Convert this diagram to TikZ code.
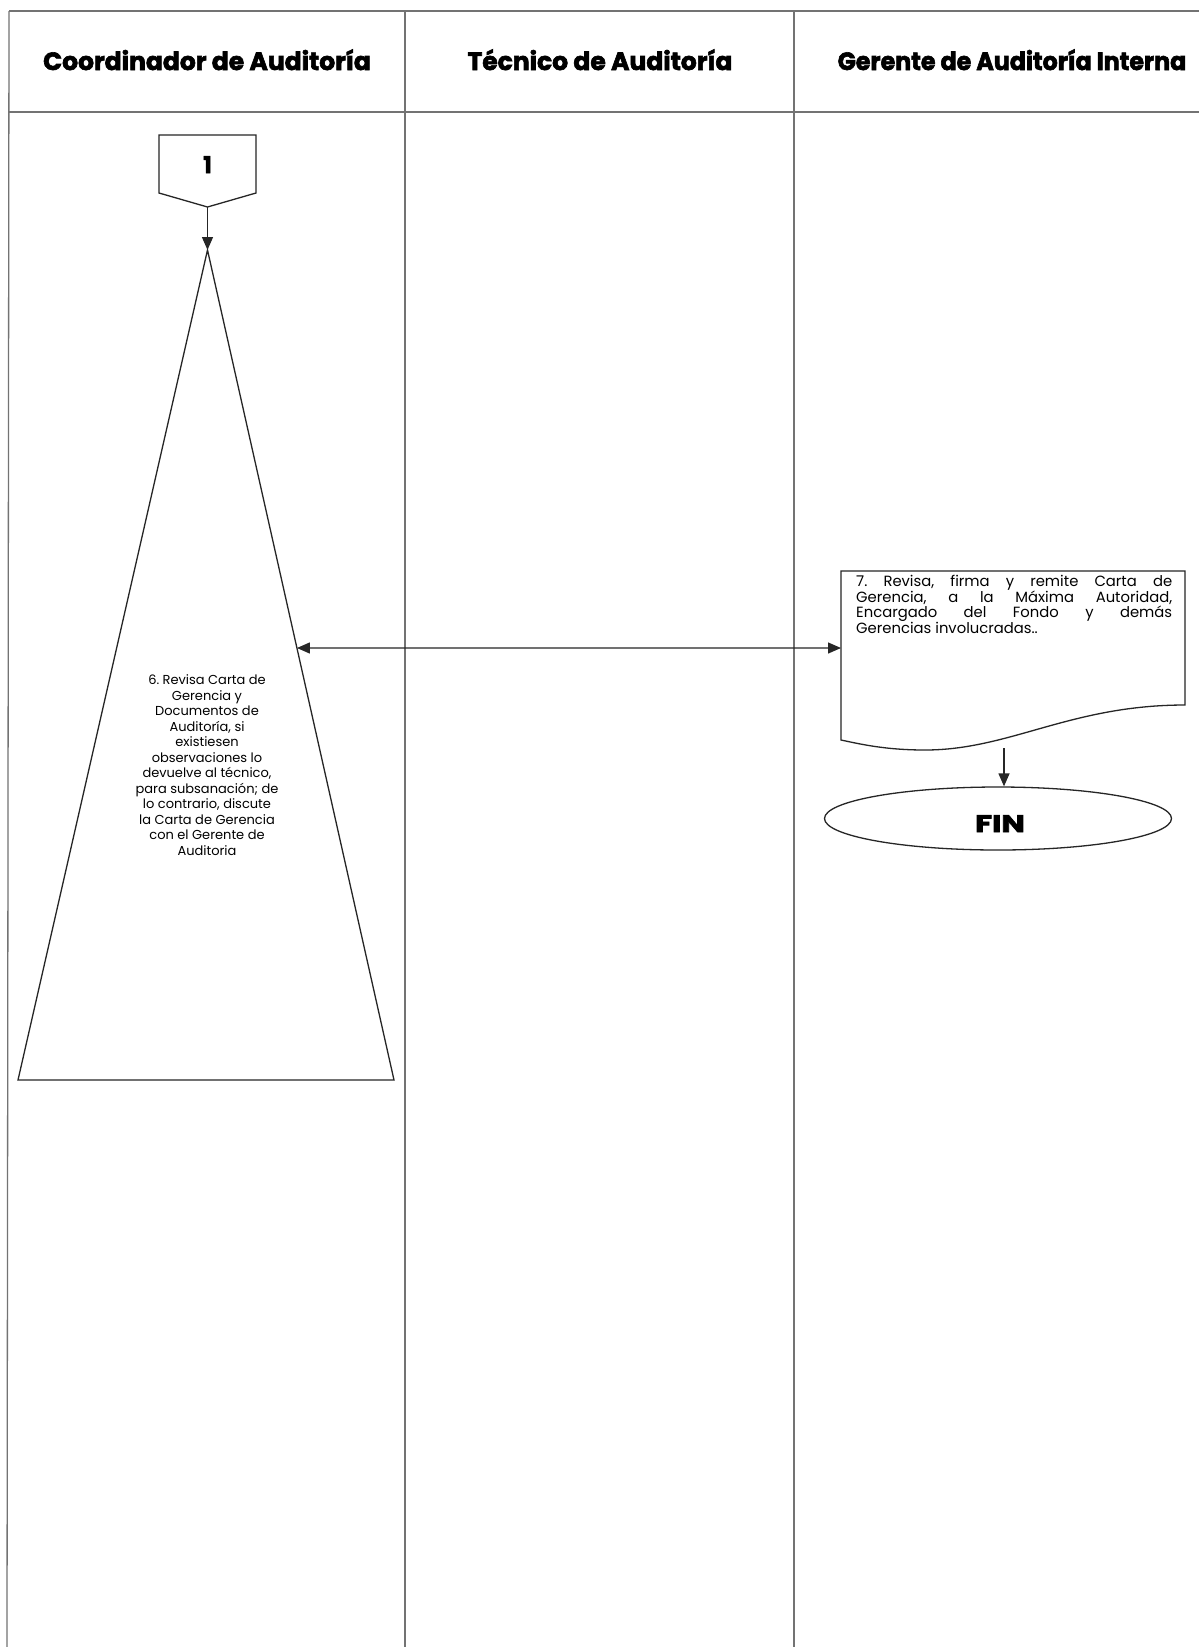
\documentclass[tikz,border=0pt]{standalone}
\usepackage{fontspec}
\setmainfont{Poppins}
\newfontfamily\headfont{Poppins}[BoldFeatures={FakeBold=2.5}]
\usetikzlibrary{shapes.geometric,arrows.meta,calc}
\begin{document}
\frenchspacing
\begin{tikzpicture}[x=1pt,y=-1pt,
  lane/.style={draw=black!55, line width=1.3pt},
  shp/.style={draw=black!85, line width=1.3pt},
  head/.style={font=\headfont\bfseries\fontsize{25}{28}\selectfont, inner sep=0pt, anchor=base},
  body/.style={font=\fontsize{13}{15.5}\selectfont, inner sep=0pt},
  arr/.style={-{Triangle[length=13pt,width=11pt]}, line width=1.3pt, black!85},
  darr/.style={{Triangle[length=13pt,width=11pt]}-{Triangle[length=13pt,width=11pt]}, line width=1.3pt, black!85}
]
\useasboundingbox (0,0) rectangle (1199,1647);
\fill[white] (0,0) rectangle (1199,1647);

% swimlane frame
\draw[lane] (9,11) -- (1199,11);
\draw[lane] (9,112) -- (1199,112);
\draw[lane] (9,11) -- (7,1647);
\draw[lane] (405,11) -- (405,1647);
\draw[lane] (794,11) -- (794,1647);

\node[head] (h1) at (207,70) {Coordinador de Auditoría};
\node[head] (h2) at (600,70) {Técnico de Auditoría};
\node[head] (h3) at (1012,70) {\scalebox{0.95}[1]{Gerente de Auditoría Interna}};

% off-page connector 1
\draw[shp] (159,135) -- (256,135) -- (256,193) -- (207.5,207) -- (159,193) -- cycle;
\node[font=\headfont\bfseries\fontsize{23}{25}\selectfont, anchor=base, inner sep=0pt] (c1) at (207.5,173) {1};
\coordinate (c1b) at (207.5,207);

% triangle step 6
\coordinate (apex) at (207.5,250);
\coordinate (bl) at (18,1080);
\coordinate (br) at (394,1080);
\draw[shp] (apex) -- (br) -- (bl) -- cycle;
\node[body, align=center] (t6) at (207,765) {6. Revisa Carta de\\Gerencia y\\Documentos de\\Auditoría, si\\existiesen\\observaciones lo\\devuelve al técnico,\\para subsanación; de\\lo contrario, discute\\la Carta de Gerencia\\con el Gerente de\\Auditoria};
\coordinate (trR) at ($(apex)!0.4795!(br)$);

\draw[arr] (c1b) -- (apex);

% document step 7
\draw[shp] (841,571) -- (1185,571) -- (1185,705)
  .. controls (1070,705) and (1010,750) .. (925,750)
  .. controls (885,750) and (860,744) .. (841,740) -- cycle;
\node[body, anchor=base west, font=\fontsize{14.8}{13.5}\selectfont] (doc) at (856,586)
  {\parbox[t]{316pt}{7. Revisa, firma y remite Carta de\linebreak Gerencia, a la Máxima Autoridad,\linebreak Encargado del Fondo y demás\linebreak Gerencias involucradas..}};
\coordinate (docW) at (841,648);
\coordinate (docB) at (1004,748);

\draw[darr] (trR) -- (docW);

% end
\node[draw=black!85, line width=1.3pt, ellipse, minimum width=347pt, minimum height=63pt] (fin) at (998,818.5) {};
\node[font=\headfont\bfseries\fontsize{24}{26}\selectfont, anchor=base, inner sep=0pt] (fintxt) at (1000,832) {\scalebox{1.3}[1]{FIN}};
\draw[arr] (docB) -- (docB |- fin.north);
\end{tikzpicture}
\end{document}
